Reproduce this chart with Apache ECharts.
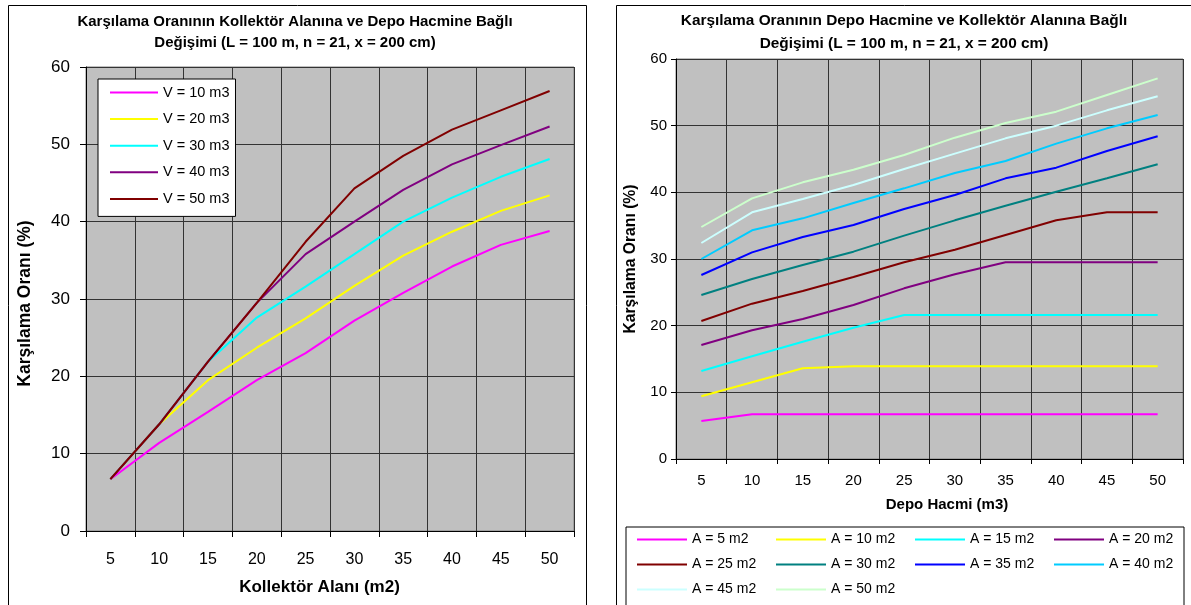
<!DOCTYPE html>
<html>
<head>
<meta charset="utf-8">
<script src="https://cdn.jsdelivr.net/npm/echarts@6/dist/echarts.min.js"></script>
<style>
  html, body { margin: 0; padding: 0; background: #fff; }
  #main { width: 1191px; height: 605px; }
</style>
</head>
<body>
<div id="main"></div>
<script>
// sol grafik: kollektör alanı (m2) -> karşılama oranı (%)
const kolAlan = ['5', '10', '15', '20', '25', '30', '35', '40', '45', '50']
const v10 = [6.7, 11.4, 15.4, 19.5, 23.0, 27.2, 30.8, 34.2, 37.0, 38.8]
const v20 = [6.7, 13.8, 19.5, 23.7, 27.5, 31.7, 35.6, 38.7, 41.4, 43.4]
const v30 = [6.7, 13.8, 21.9, 27.6, 31.6, 35.8, 40.0, 43.1, 45.8, 48.1]
const v40 = [6.7, 13.8, 21.9, 29.5, 35.8, 40.0, 44.1, 47.4, 49.9, 52.3]
const v50 = [6.7, 13.8, 21.9, 29.5, 37.4, 44.3, 48.5, 51.9, 54.4, 56.9]

// sağ grafik: depo hacmi (m3) -> karşılama oranı (%)
const depoHacmi = ['5', '10', '15', '20', '25', '30', '35', '40', '45', '50']
const a5 = [5.7, 6.7, 6.7, 6.7, 6.7, 6.7, 6.7, 6.7, 6.7, 6.7]
const a10 = [9.4, 11.5, 13.6, 13.9, 13.9, 13.9, 13.9, 13.9, 13.9, 13.9]
const a15 = [13.2, 15.4, 17.6, 19.7, 21.6, 21.6, 21.6, 21.6, 21.6, 21.6]
const a20 = [17.1, 19.3, 21.0, 23.1, 25.6, 27.7, 29.5, 29.5, 29.5, 29.5]
const a25 = [20.7, 23.3, 25.2, 27.3, 29.5, 31.4, 33.6, 35.8, 37.0, 37.0]
const a30 = [24.6, 27.0, 29.1, 31.1, 33.5, 35.8, 38.0, 40.1, 42.1, 44.2]
const a35 = [27.6, 31.0, 33.3, 35.1, 37.5, 39.6, 42.1, 43.7, 46.2, 48.4]
const a40 = [30.0, 34.3, 36.1, 38.4, 40.6, 42.9, 44.7, 47.3, 49.6, 51.6]
const a45 = [32.4, 37.0, 39.0, 41.1, 43.5, 45.8, 48.1, 50.0, 52.3, 54.4]
const a50 = [34.8, 39.1, 41.5, 43.4, 45.6, 48.2, 50.4, 52.1, 54.6, 57.1]

const leftSeries = [
  { name: 'V = 10 m3', data: v10, color: '#FF00FF' },
  { name: 'V = 20 m3', data: v20, color: '#FFFF00' },
  { name: 'V = 30 m3', data: v30, color: '#00FFFF' },
  { name: 'V = 40 m3', data: v40, color: '#800080' },
  { name: 'V = 50 m3', data: v50, color: '#800000' }
]
const rightSeries = [
  { name: 'A = 5 m2', data: a5, color: '#FF00FF' },
  { name: 'A = 10 m2', data: a10, color: '#FFFF00' },
  { name: 'A = 15 m2', data: a15, color: '#00FFFF' },
  { name: 'A = 20 m2', data: a20, color: '#800080' },
  { name: 'A = 25 m2', data: a25, color: '#800000' },
  { name: 'A = 30 m2', data: a30, color: '#008080' },
  { name: 'A = 35 m2', data: a35, color: '#0000FF' },
  { name: 'A = 40 m2', data: a40, color: '#00CCFF' },
  { name: 'A = 45 m2', data: a45, color: '#CCFFFF' },
  { name: 'A = 50 m2', data: a50, color: '#CCFFCC' }
]

const FONT = 'Arial, "Liberation Sans", sans-serif'
const gridLine = { color: '#333', width: 1 }

function makeLine(s, idx) {
  return {
    name: s.name,
    type: 'line',
    xAxisIndex: idx,
    yAxisIndex: idx,
    data: s.data,
    symbol: 'none',
    color: s.color,
    lineStyle: { color: s.color, width: 2 },
    animation: false
  }
}

const chart = echarts.init(document.getElementById('main'))
chart.setOption({
  backgroundColor: '#fff',
  textStyle: { fontFamily: FONT },
  title: [
    {
      text: 'Karşılama Oranının Kollektör Alanına ve Depo Hacmine Bağlı\nDeğişimi (L = 100 m, n = 21, x = 200 cm)',
      left: 290,
      top: 6,
      textAlign: 'center',
      textStyle: { fontSize: 15, fontWeight: 'bold', color: '#000', lineHeight: 21.5, fontFamily: FONT }
    },
    {
      text: 'Karşılama Oranının Depo Hacmine ve Kollektör Alanına Bağlı\nDeğişimi (L = 100 m, n = 21, x = 200 cm)',
      left: 899,
      top: 5,
      textAlign: 'center',
      textStyle: { fontSize: 15.4, fontWeight: 'bold', color: '#000', lineHeight: 22.4, fontFamily: FONT }
    }
  ],
  legend: [
    {
      data: leftSeries.map(s => s.name),
      orient: 'vertical',
      left: 98,
      top: 79,
      padding: [6, 6, 10, 12],
      icon: 'rect',
      itemWidth: 48,
      itemHeight: 2,
      itemGap: 11.6,
      backgroundColor: '#fff',
      borderColor: '#000',
      borderWidth: 1,
      borderRadius: 0,
      textStyle: { fontSize: 14.5, lineHeight: 14.5, color: '#000', fontFamily: FONT }
    },
    {
      data: rightSeries.map(s => s.name),
      orient: 'horizontal',
      left: 626,
      top: 527,
      width: 560,
      padding: [5, 1, 12, 11],
      icon: 'rect',
      itemWidth: 50,
      itemHeight: 2,
      itemGap: 10,
      backgroundColor: '#fff',
      borderColor: '#000',
      borderWidth: 1,
      borderRadius: 0,
      textStyle: { fontSize: 14, lineHeight: 15, width: 74, overflow: 'none', color: '#000', fontFamily: FONT }
    }
  ],
  grid: [
    { left: 86, top: 67, width: 488, height: 464, show: true, backgroundColor: '#C0C0C0', borderColor: '#808080', borderWidth: 1 },
    { left: 676, top: 59, width: 507, height: 400, show: true, backgroundColor: '#C0C0C0', borderColor: '#808080', borderWidth: 1 }
  ],
  xAxis: [
    {
      gridIndex: 0,
      type: 'category',
      data: kolAlan,
      boundaryGap: true,
      name: 'Kollektör Alanı (m2)',
      nameLocation: 'middle',
      nameGap: 48,
      nameTextStyle: { fontSize: 17, fontWeight: 'bold', color: '#000', padding: [0, 21, 0, 0] },
      axisLine: { show: true, lineStyle: { color: '#000', width: 1 } },
      axisTick: { show: true, length: 6, inside: false, interval: 0, lineStyle: { color: '#000' } },
      axisLabel: { interval: 0, fontSize: 16, color: '#000', margin: 21 },
      splitLine: { show: true, interval: 0, lineStyle: gridLine }
    },
    {
      gridIndex: 1,
      type: 'category',
      data: depoHacmi,
      boundaryGap: true,
      name: 'Depo Hacmi (m3)',
      nameLocation: 'middle',
      nameGap: 38,
      nameTextStyle: { fontSize: 15, fontWeight: 'bold', color: '#000', padding: [0, 0, 0, 35] },
      axisLine: { show: true, lineStyle: { color: '#000', width: 1 } },
      axisTick: { show: true, length: 5, inside: false, interval: 0, lineStyle: { color: '#000' } },
      axisLabel: { interval: 0, fontSize: 15, color: '#000', margin: 14 },
      splitLine: { show: true, interval: 0, lineStyle: gridLine }
    }
  ],
  yAxis: [
    {
      gridIndex: 0,
      type: 'value',
      min: 0,
      max: 60,
      interval: 10,
      name: 'Karşılama Oranı (%)',
      nameLocation: 'middle',
      nameGap: 52,
      nameTextStyle: { fontSize: 17.5, fontWeight: 'bold', color: '#000', padding: [0, 9, 0, 0] },
      axisLine: { show: true, lineStyle: { color: '#000', width: 1 } },
      axisTick: { show: true, length: 6, inside: false, lineStyle: { color: '#000' } },
      axisLabel: { fontSize: 17, color: '#000', margin: 16 },
      splitLine: { show: true, lineStyle: gridLine }
    },
    {
      gridIndex: 1,
      type: 'value',
      min: 0,
      max: 60,
      interval: 10,
      name: 'Karşılama Oranı (%)',
      nameLocation: 'middle',
      nameGap: 37,
      nameTextStyle: { fontSize: 15.7, fontWeight: 'bold', color: '#000' },
      axisLine: { show: true, lineStyle: { color: '#000', width: 1 } },
      axisTick: { show: true, length: 5, inside: false, lineStyle: { color: '#000' } },
      axisLabel: { fontSize: 15, color: '#000', margin: 9 },
      splitLine: { show: true, lineStyle: gridLine }
    }
  ],
  graphic: [
    { type: 'rect', silent: true, z: -1, shape: { x: 8.5, y: 5.5, width: 578, height: 650 }, style: { fill: null, stroke: '#000', lineWidth: 1 } },
    { type: 'rect', silent: true, z: -1, shape: { x: 616.5, y: 5.5, width: 620, height: 650 }, style: { fill: null, stroke: '#000', lineWidth: 1 } }
  ],
  series: leftSeries.map(s => makeLine(s, 0)).concat(rightSeries.map(s => makeLine(s, 1)))
})
</script>
</body>
</html>
